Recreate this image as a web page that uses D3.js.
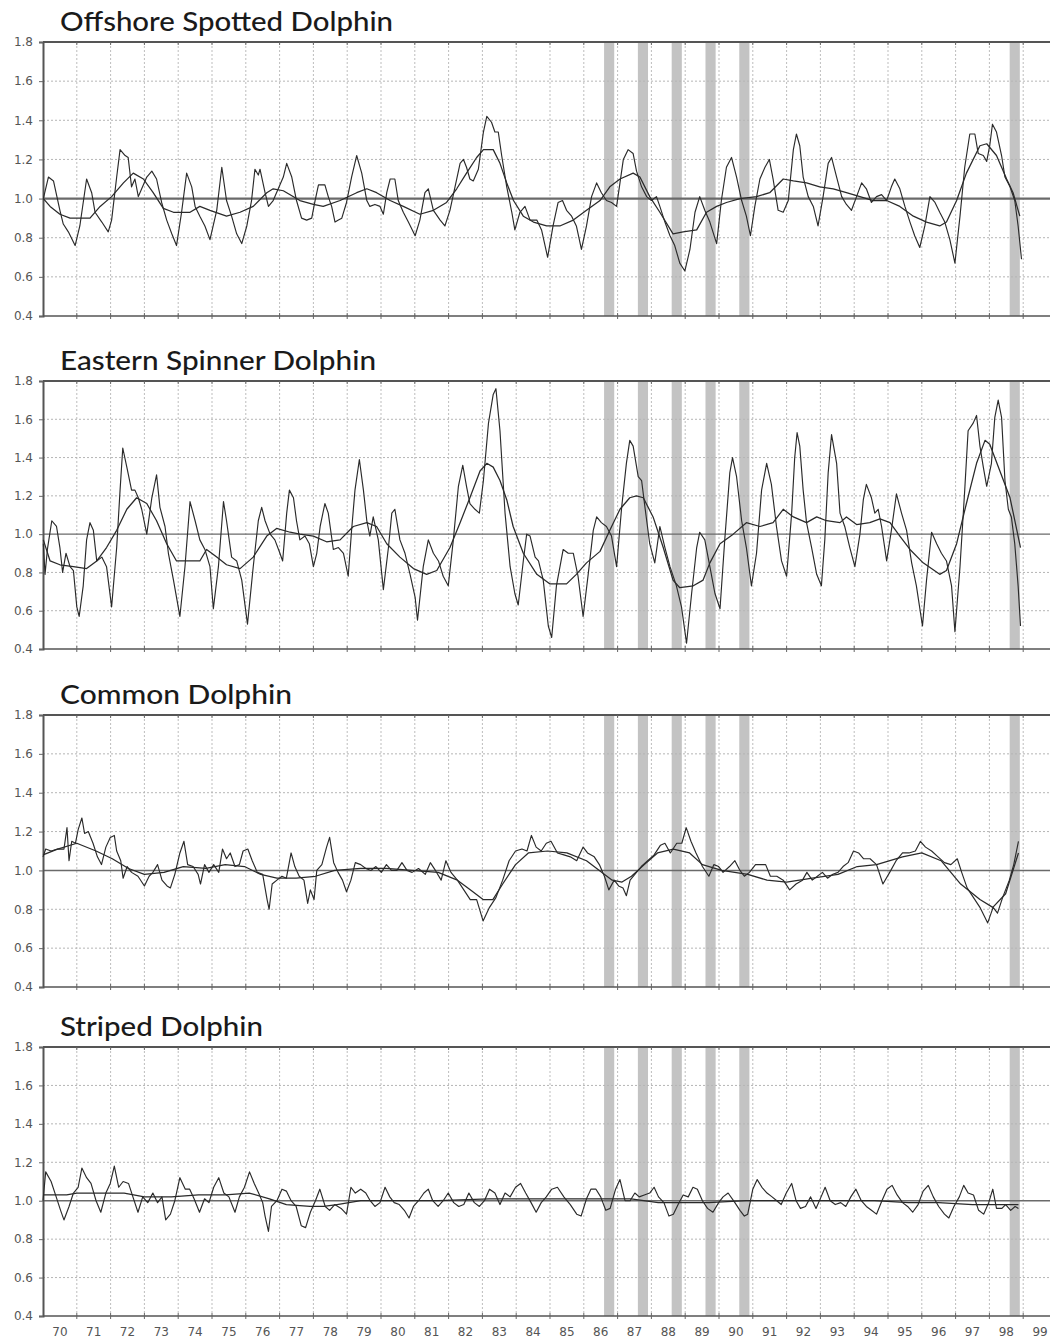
<!DOCTYPE html>
<html><head><meta charset="utf-8">
<script src="https://cdn.jsdelivr.net/npm/d3@7"></script>
<style>html,body{margin:0;padding:0;background:#fff;}svg{display:block;}</style>
</head><body>
<script>
// ---------- DATA ----------
const titles = ["Offshore Spotted Dolphin","Eastern Spinner Dolphin","Common Dolphin","Striped Dolphin"];
const yTicks = [0.4,0.6,0.8,1.0,1.2,1.4,1.6,1.8];
const yTickLabels = ["0.4","0.6","0.8","1.0","1.2","1.4","1.6","1.8"];
const xYears = d3.range(1970,2000);
const xTickLabels = ["70","71","72","73","74","75","76","77","78","79","80","81","82","83","84","85","86","87","88","89","90","91","92","93","94","95","96","97","98","99"];
const shadedYears = [1986,1987,1988,1989,1990,1998];

const spottedRaw = [[1970.01,1.00],[1970.16,1.11],[1970.31,1.09],[1970.50,0.94],[1970.60,0.87],[1970.75,0.83],[1970.95,0.76],[1971.09,0.86],[1971.29,1.10],[1971.44,1.03],[1971.54,0.93],[1971.74,0.88],[1971.93,0.83],[1972.03,0.89],[1972.18,1.11],[1972.28,1.25],[1972.43,1.22],[1972.52,1.21],[1972.62,1.06],[1972.72,1.10],[1972.82,1.01],[1972.92,1.05],[1973.07,1.11],[1973.22,1.14],[1973.36,1.10],[1973.51,0.98],[1973.66,0.89],[1973.81,0.82],[1973.95,0.76],[1974.10,0.93],[1974.25,1.13],[1974.40,1.06],[1974.50,0.96],[1974.64,0.91],[1974.79,0.86],[1974.94,0.79],[1975.14,0.94],[1975.29,1.16],[1975.43,0.99],[1975.58,0.91],[1975.73,0.82],[1975.88,0.77],[1976.03,0.86],[1976.17,0.99],[1976.27,1.15],[1976.37,1.12],[1976.42,1.15],[1976.57,1.03],[1976.67,0.96],[1976.81,0.99],[1976.96,1.05],[1977.11,1.11],[1977.21,1.18],[1977.36,1.11],[1977.50,0.99],[1977.65,0.90],[1977.80,0.89],[1977.95,0.90],[1978.05,0.99],[1978.15,1.07],[1978.34,1.07],[1978.44,1.01],[1978.54,0.96],[1978.64,0.88],[1978.74,0.89],[1978.84,0.90],[1978.98,0.98],[1979.13,1.11],[1979.28,1.22],[1979.43,1.13],[1979.58,0.99],[1979.67,0.96],[1979.82,0.97],[1979.97,0.96],[1980.07,0.92],[1980.17,1.03],[1980.27,1.10],[1980.41,1.10],[1980.51,0.99],[1980.66,0.93],[1980.81,0.88],[1981.01,0.81],[1981.15,0.89],[1981.30,1.03],[1981.40,1.05],[1981.55,0.94],[1981.75,0.89],[1981.89,0.86],[1982.04,0.94],[1982.19,1.06],[1982.34,1.18],[1982.44,1.20],[1982.53,1.16],[1982.63,1.10],[1982.73,1.09],[1982.88,1.15],[1983.03,1.34],[1983.13,1.42],[1983.27,1.39],[1983.37,1.34],[1983.47,1.34],[1983.57,1.22],[1983.72,1.06],[1983.87,0.93],[1983.96,0.84],[1984.11,0.93],[1984.26,0.96],[1984.41,0.89],[1984.61,0.89],[1984.75,0.84],[1984.93,0.70],[1985.09,0.86],[1985.24,0.98],[1985.37,0.99],[1985.49,0.94],[1985.64,0.91],[1985.78,0.86],[1985.93,0.74],[1986.08,0.86],[1986.23,1.01],[1986.38,1.08],[1986.52,1.03],[1986.67,0.99],[1986.82,0.98],[1986.97,0.96],[1987.07,1.08],[1987.17,1.20],[1987.31,1.25],[1987.46,1.23],[1987.56,1.14],[1987.71,1.06],[1987.86,1.01],[1988.00,0.99],[1988.15,1.01],[1988.25,0.96],[1988.40,0.88],[1988.55,0.81],[1988.69,0.76],[1988.84,0.67],[1988.99,0.63],[1989.14,0.74],[1989.29,0.93],[1989.43,1.01],[1989.58,0.94],[1989.73,0.88],[1989.93,0.77],[1990.07,0.99],[1990.22,1.16],[1990.37,1.21],[1990.52,1.11],[1990.67,0.99],[1990.81,0.91],[1990.93,0.81],[1991.06,0.96],[1991.21,1.10],[1991.36,1.16],[1991.49,1.20],[1991.60,1.10],[1991.75,0.94],[1991.90,0.93],[1992.05,0.99],[1992.20,1.25],[1992.29,1.33],[1992.39,1.27],[1992.49,1.11],[1992.64,1.01],[1992.79,0.96],[1992.93,0.86],[1993.08,1.01],[1993.23,1.18],[1993.33,1.21],[1993.48,1.11],[1993.63,1.01],[1993.77,0.97],[1993.92,0.94],[1994.07,1.01],[1994.22,1.08],[1994.36,1.05],[1994.51,0.98],[1994.66,1.01],[1994.81,1.02],[1994.96,0.99],[1995.10,1.06],[1995.20,1.10],[1995.35,1.05],[1995.50,0.96],[1995.65,0.88],[1995.79,0.81],[1995.94,0.75],[1996.09,0.86],[1996.24,1.01],[1996.39,0.98],[1996.53,0.93],[1996.68,0.88],[1996.83,0.79],[1996.98,0.67],[1997.13,0.91],[1997.27,1.16],[1997.42,1.33],[1997.57,1.33],[1997.67,1.23],[1997.82,1.22],[1997.92,1.19],[1998.01,1.27],[1998.09,1.38],[1998.21,1.34],[1998.36,1.22],[1998.46,1.11],[1998.61,1.06],[1998.75,0.99],[1998.85,0.86],[1998.95,0.69]];
const spottedTrend = [[1970.01,1.00],[1970.21,0.96],[1970.50,0.92],[1970.80,0.90],[1971.39,0.90],[1971.69,0.96],[1972.03,1.01],[1972.38,1.08],[1972.67,1.13],[1972.97,1.10],[1973.26,1.03],[1973.56,0.95],[1973.86,0.93],[1974.35,0.93],[1974.64,0.96],[1974.94,0.94],[1975.43,0.91],[1975.83,0.93],[1976.22,0.96],[1976.62,1.03],[1976.81,1.05],[1977.11,1.04],[1977.60,0.99],[1978.00,0.97],[1978.29,0.96],[1978.79,0.99],[1979.28,1.03],[1979.58,1.05],[1979.87,1.03],[1980.27,0.99],[1980.66,0.96],[1981.15,0.92],[1981.55,0.94],[1981.94,0.98],[1982.24,1.05],[1982.53,1.13],[1982.83,1.21],[1983.03,1.25],[1983.32,1.25],[1983.52,1.18],[1983.72,1.08],[1983.92,0.99],[1984.21,0.91],[1984.51,0.88],[1984.90,0.86],[1985.29,0.86],[1985.69,0.89],[1986.08,0.94],[1986.48,0.99],[1986.77,1.06],[1987.07,1.10],[1987.46,1.13],[1987.66,1.11],[1987.95,1.01],[1988.25,0.93],[1988.64,0.82],[1988.94,0.83],[1989.34,0.84],[1989.63,0.93],[1989.93,0.96],[1990.22,0.98],[1990.62,1.00],[1991.11,1.01],[1991.50,1.03],[1991.90,1.10],[1992.20,1.09],[1992.59,1.08],[1992.98,1.06],[1993.38,1.05],[1993.77,1.03],[1994.17,1.01],[1994.56,0.99],[1994.96,0.99],[1995.35,0.96],[1995.75,0.91],[1996.14,0.88],[1996.53,0.86],[1996.73,0.88],[1997.03,0.99],[1997.32,1.13],[1997.72,1.27],[1997.92,1.28],[1998.21,1.22],[1998.51,1.10],[1998.70,1.03],[1998.90,0.91]];

const spinnerRaw = [[1970.01,0.95],[1970.06,0.79],[1970.13,0.92],[1970.26,1.07],[1970.40,1.04],[1970.50,0.93],[1970.58,0.80],[1970.68,0.90],[1970.80,0.83],[1970.90,0.81],[1971.00,0.62],[1971.07,0.57],[1971.19,0.73],[1971.29,0.97],[1971.39,1.06],[1971.49,1.02],[1971.59,0.86],[1971.74,0.88],[1971.88,0.83],[1972.03,0.62],[1972.18,0.93],[1972.28,1.23],[1972.36,1.45],[1972.48,1.35],[1972.62,1.23],[1972.72,1.23],[1972.82,1.19],[1972.92,1.13],[1973.07,1.00],[1973.22,1.19],[1973.36,1.31],[1973.46,1.14],[1973.61,1.04],[1973.71,0.90],[1973.86,0.76],[1974.05,0.57],[1974.20,0.83],[1974.35,1.17],[1974.50,1.07],[1974.64,0.97],[1974.79,0.92],[1974.94,0.83],[1975.04,0.61],[1975.19,0.83],[1975.34,1.17],[1975.43,1.07],[1975.58,0.88],[1975.73,0.86],[1975.88,0.76],[1976.05,0.53],[1976.22,0.83],[1976.37,1.07],[1976.47,1.14],[1976.57,1.07],[1976.72,1.00],[1976.86,0.97],[1977.01,0.90],[1977.09,0.86],[1977.21,1.11],[1977.29,1.23],[1977.41,1.19],[1977.50,1.07],[1977.60,0.97],[1977.75,0.99],[1977.88,0.95],[1978.00,0.83],[1978.10,0.90],[1978.20,1.04],[1978.34,1.16],[1978.44,1.11],[1978.59,0.92],[1978.74,0.93],[1978.89,0.90],[1979.03,0.78],[1979.13,1.02],[1979.23,1.23],[1979.36,1.39],[1979.48,1.23],[1979.58,1.07],[1979.67,0.99],[1979.77,1.09],[1979.92,0.97],[1980.07,0.71],[1980.22,0.93],[1980.32,1.11],[1980.41,1.13],[1980.56,0.97],[1980.71,0.90],[1980.86,0.79],[1981.01,0.67],[1981.08,0.55],[1981.25,0.83],[1981.40,0.97],[1981.55,0.90],[1981.70,0.86],[1981.84,0.78],[1981.99,0.73],[1982.14,0.97],[1982.29,1.25],[1982.42,1.36],[1982.53,1.25],[1982.63,1.16],[1982.78,1.13],[1982.91,1.11],[1983.03,1.28],[1983.18,1.58],[1983.32,1.73],[1983.40,1.76],[1983.52,1.54],[1983.67,1.11],[1983.82,0.83],[1983.96,0.69],[1984.06,0.63],[1984.21,0.86],[1984.31,1.00],[1984.41,0.99],[1984.56,0.88],[1984.66,0.86],[1984.80,0.76],[1984.95,0.52],[1985.05,0.46],[1985.19,0.73],[1985.39,0.92],[1985.54,0.90],[1985.69,0.90],[1985.83,0.78],[1985.98,0.57],[1986.13,0.79],[1986.28,1.02],[1986.38,1.09],[1986.52,1.06],[1986.67,1.04],[1986.82,0.99],[1986.97,0.83],[1987.12,1.14],[1987.26,1.37],[1987.36,1.49],[1987.46,1.46],[1987.61,1.30],[1987.71,1.28],[1987.81,1.14],[1987.95,0.95],[1988.10,0.85],[1988.25,1.04],[1988.40,0.93],[1988.55,0.83],[1988.74,0.73],[1988.89,0.62],[1989.04,0.43],[1989.19,0.69],[1989.34,0.93],[1989.43,1.01],[1989.58,0.97],[1989.73,0.83],[1989.88,0.69],[1990.03,0.61],[1990.17,0.97],[1990.32,1.32],[1990.40,1.40],[1990.52,1.30],[1990.67,1.07],[1990.81,0.93],[1990.96,0.73],[1991.11,0.90],[1991.26,1.23],[1991.41,1.37],[1991.55,1.26],[1991.70,1.04],[1991.85,0.86],[1992.00,0.78],[1992.15,1.11],[1992.24,1.40],[1992.31,1.53],[1992.39,1.46],[1992.49,1.23],[1992.59,1.06],[1992.74,0.93],[1992.89,0.79],[1993.03,0.73],[1993.13,0.97],[1993.23,1.32],[1993.33,1.52],[1993.48,1.37],[1993.58,1.11],[1993.72,1.04],[1993.87,0.93],[1994.02,0.83],[1994.17,1.00],[1994.27,1.18],[1994.36,1.26],[1994.51,1.19],[1994.61,1.11],[1994.71,1.13],[1994.81,1.04],[1994.96,0.86],[1995.10,1.02],[1995.25,1.21],[1995.40,1.11],[1995.55,1.02],[1995.70,0.85],[1995.84,0.73],[1996.02,0.52],[1996.14,0.76],[1996.29,1.01],[1996.44,0.95],[1996.58,0.90],[1996.73,0.86],[1996.88,0.73],[1996.98,0.49],[1997.13,0.83],[1997.27,1.23],[1997.37,1.54],[1997.52,1.58],[1997.62,1.62],[1997.72,1.46],[1997.82,1.35],[1997.92,1.25],[1998.06,1.37],[1998.16,1.61],[1998.26,1.70],[1998.36,1.61],[1998.46,1.28],[1998.56,1.13],[1998.65,1.09],[1998.75,0.95],[1998.85,0.73],[1998.92,0.52]];
const spinnerTrend = [[1970.01,0.97],[1970.21,0.86],[1970.50,0.84],[1970.90,0.83],[1971.29,0.82],[1971.59,0.86],[1971.88,0.93],[1972.18,1.02],[1972.48,1.13],[1972.77,1.19],[1973.07,1.16],[1973.36,1.07],[1973.66,0.95],[1973.95,0.86],[1974.25,0.86],[1974.64,0.86],[1974.84,0.92],[1975.14,0.88],[1975.43,0.84],[1975.83,0.82],[1976.22,0.88],[1976.62,0.99],[1976.91,1.03],[1977.31,1.01],[1977.60,1.00],[1978.00,0.99],[1978.39,0.96],[1978.79,0.97],[1979.18,1.04],[1979.58,1.06],[1979.87,1.04],[1980.17,0.95],[1980.56,0.88],[1980.96,0.82],[1981.35,0.79],[1981.65,0.81],[1982.04,0.93],[1982.34,1.06],[1982.63,1.19],[1982.93,1.33],[1983.13,1.37],[1983.32,1.35],[1983.52,1.28],[1983.72,1.18],[1983.91,1.04],[1984.21,0.90],[1984.61,0.79],[1985.00,0.74],[1985.49,0.74],[1985.78,0.79],[1986.08,0.85],[1986.48,0.91],[1986.77,1.02],[1987.07,1.13],[1987.36,1.19],[1987.56,1.20],[1987.76,1.19],[1988.05,1.09],[1988.35,0.93],[1988.64,0.76],[1988.84,0.72],[1989.24,0.73],[1989.53,0.76],[1989.73,0.85],[1990.03,0.95],[1990.42,1.00],[1990.81,1.06],[1991.21,1.04],[1991.60,1.06],[1991.90,1.13],[1992.20,1.09],[1992.59,1.06],[1992.89,1.09],[1993.18,1.07],[1993.58,1.06],[1993.77,1.09],[1994.07,1.05],[1994.46,1.06],[1994.76,1.08],[1995.06,1.06],[1995.35,0.99],[1995.65,0.92],[1996.04,0.85],[1996.53,0.79],[1996.73,0.81],[1997.03,0.95],[1997.32,1.16],[1997.62,1.37],[1997.87,1.49],[1998.01,1.47],[1998.31,1.33],[1998.61,1.19],[1998.92,0.93]];

const commonRaw = [[1970.00,1.07],[1970.08,1.11],[1970.24,1.10],[1970.43,1.11],[1970.62,1.11],[1970.71,1.22],[1970.77,1.05],[1970.85,1.15],[1970.96,1.14],[1971.04,1.21],[1971.15,1.27],[1971.23,1.19],[1971.34,1.20],[1971.48,1.14],[1971.61,1.07],[1971.73,1.03],[1971.86,1.12],[1971.99,1.17],[1972.11,1.18],[1972.18,1.10],[1972.30,1.05],[1972.37,0.96],[1972.49,1.02],[1972.62,0.99],[1972.81,0.97],[1973.00,0.92],[1973.14,0.97],[1973.25,0.99],[1973.39,1.03],[1973.52,0.95],[1973.67,0.92],[1973.77,0.91],[1973.90,0.98],[1974.05,1.09],[1974.17,1.15],[1974.28,1.03],[1974.44,1.02],[1974.59,0.98],[1974.66,0.93],[1974.78,1.03],[1974.91,0.99],[1975.05,1.03],[1975.20,0.99],[1975.31,1.11],[1975.43,1.06],[1975.54,1.09],[1975.68,1.02],[1975.81,1.03],[1975.92,1.10],[1976.06,1.11],[1976.19,1.05],[1976.34,0.99],[1976.50,0.98],[1976.63,0.85],[1976.69,0.80],[1976.78,0.93],[1976.92,0.95],[1977.07,0.97],[1977.20,0.96],[1977.34,1.09],[1977.45,1.02],[1977.58,0.97],[1977.72,0.95],[1977.83,0.83],[1977.91,0.90],[1978.02,0.85],[1978.10,1.00],[1978.25,1.03],[1978.39,1.12],[1978.48,1.17],[1978.60,1.04],[1978.73,0.99],[1978.86,0.95],[1978.98,0.89],[1979.11,0.95],[1979.24,1.04],[1979.40,1.03],[1979.55,1.01],[1979.70,1.00],[1979.85,1.02],[1980.01,0.99],[1980.16,1.03],[1980.31,1.00],[1980.47,1.00],[1980.62,1.04],[1980.77,1.00],[1980.92,0.99],[1981.11,1.01],[1981.31,0.98],[1981.46,1.04],[1981.61,1.00],[1981.78,0.95],[1981.92,1.05],[1982.07,0.99],[1982.26,0.95],[1982.45,0.90],[1982.64,0.85],[1982.83,0.85],[1983.02,0.74],[1983.21,0.81],[1983.40,0.86],[1983.60,0.95],[1983.79,1.05],[1983.98,1.10],[1984.17,1.11],[1984.32,1.10],[1984.45,1.18],[1984.59,1.12],[1984.74,1.10],[1984.89,1.14],[1985.03,1.15],[1985.22,1.09],[1985.41,1.08],[1985.60,1.07],[1985.79,1.05],[1985.98,1.12],[1986.11,1.09],[1986.31,1.07],[1986.46,1.03],[1986.61,0.97],[1986.74,0.90],[1986.90,0.95],[1987.03,0.92],[1987.16,0.91],[1987.26,0.87],[1987.37,0.95],[1987.51,0.98],[1987.70,1.02],[1987.89,1.05],[1988.08,1.08],[1988.27,1.13],[1988.40,1.14],[1988.56,1.09],[1988.75,1.14],[1988.90,1.14],[1989.03,1.22],[1989.17,1.15],[1989.32,1.09],[1989.51,1.02],[1989.70,0.97],[1989.85,1.03],[1989.99,1.02],[1990.12,0.99],[1990.31,1.02],[1990.47,1.05],[1990.62,1.00],[1990.75,0.97],[1990.90,0.99],[1991.08,1.03],[1991.23,1.03],[1991.38,1.03],[1991.52,0.97],[1991.71,0.97],[1991.90,0.95],[1992.09,0.90],[1992.28,0.93],[1992.47,0.95],[1992.60,0.99],[1992.76,0.95],[1992.91,0.97],[1993.06,0.99],[1993.21,0.96],[1993.37,0.98],[1993.52,0.99],[1993.67,1.02],[1993.82,1.04],[1993.98,1.10],[1994.13,1.09],[1994.28,1.06],[1994.47,1.06],[1994.66,1.03],[1994.85,0.93],[1995.05,0.99],[1995.24,1.05],[1995.43,1.09],[1995.62,1.09],[1995.81,1.10],[1995.96,1.15],[1996.11,1.12],[1996.29,1.10],[1996.48,1.07],[1996.67,1.04],[1996.86,1.03],[1997.05,1.06],[1997.18,0.99],[1997.34,0.91],[1997.53,0.86],[1997.72,0.81],[1997.95,0.73],[1998.11,0.81],[1998.24,0.78],[1998.39,0.86],[1998.59,0.95],[1998.72,1.03],[1998.86,1.15]];
const commonTrend = [[1970.00,1.08],[1970.43,1.11],[1971.00,1.14],[1971.57,1.10],[1972.05,1.06],[1972.53,1.01],[1973.00,0.98],[1973.58,0.99],[1974.15,1.02],[1974.82,1.01],[1975.39,1.03],[1975.96,1.02],[1976.44,0.98],[1976.92,0.96],[1977.49,0.96],[1978.06,0.97],[1978.63,1.00],[1979.40,1.01],[1980.16,1.01],[1980.92,1.00],[1981.69,0.99],[1982.26,0.95],[1982.64,0.90],[1983.02,0.85],[1983.31,0.85],[1983.60,0.93],[1983.98,1.03],[1984.36,1.09],[1984.93,1.10],[1985.50,1.09],[1986.08,1.05],[1986.46,1.00],[1986.84,0.95],[1987.13,0.94],[1987.41,0.97],[1987.79,1.03],[1988.18,1.09],[1988.65,1.11],[1989.13,1.09],[1989.51,1.03],[1990.08,1.00],[1990.85,0.98],[1991.42,0.95],[1992.00,0.94],[1992.76,0.96],[1993.52,0.98],[1994.09,1.02],[1994.66,1.03],[1995.43,1.07],[1996.00,1.09],[1996.57,1.05],[1997.15,0.93],[1997.72,0.85],[1998.10,0.81],[1998.48,0.88],[1998.86,1.09]];

const stripedRaw = [[1970.00,1.00],[1970.08,1.15],[1970.24,1.10],[1970.39,1.02],[1970.52,0.95],[1970.62,0.90],[1970.77,0.97],[1970.90,1.04],[1971.04,1.07],[1971.15,1.17],[1971.29,1.12],[1971.42,1.09],[1971.57,1.00],[1971.71,0.94],[1971.86,1.04],[1971.99,1.09],[1972.11,1.18],[1972.24,1.07],[1972.37,1.10],[1972.53,1.09],[1972.66,1.02],[1972.81,0.94],[1972.95,1.02],[1973.10,0.99],[1973.25,1.04],[1973.39,0.99],[1973.52,1.02],[1973.63,0.90],[1973.77,0.93],[1973.90,1.00],[1974.05,1.12],[1974.21,1.06],[1974.34,1.06],[1974.47,1.01],[1974.63,0.94],[1974.78,1.01],[1974.91,0.99],[1975.05,1.07],[1975.20,1.12],[1975.35,1.04],[1975.50,1.02],[1975.68,0.94],[1975.81,1.02],[1975.96,1.07],[1976.11,1.15],[1976.25,1.09],[1976.38,1.04],[1976.50,0.99],[1976.57,0.92],[1976.67,0.84],[1976.76,0.97],[1976.92,1.00],[1977.07,1.06],[1977.20,1.05],[1977.34,1.00],[1977.49,0.97],[1977.64,0.87],[1977.77,0.86],[1977.91,0.94],[1978.06,1.00],[1978.19,1.06],[1978.35,0.97],[1978.48,0.95],[1978.63,0.98],[1978.82,0.96],[1978.98,0.93],[1979.11,1.07],[1979.24,1.04],[1979.40,1.06],[1979.55,1.04],[1979.68,1.00],[1979.82,0.97],[1979.97,0.99],[1980.12,1.07],[1980.26,1.02],[1980.39,0.99],[1980.54,0.98],[1980.69,0.95],[1980.83,0.91],[1980.96,0.97],[1981.11,1.00],[1981.27,1.04],[1981.40,1.06],[1981.53,1.00],[1981.69,0.97],[1981.84,1.00],[1981.99,1.04],[1982.15,0.99],[1982.30,0.97],[1982.45,0.98],[1982.60,1.04],[1982.76,0.99],[1982.91,0.97],[1983.06,1.00],[1983.21,1.06],[1983.37,1.04],[1983.52,0.98],[1983.67,1.04],[1983.82,1.02],[1983.98,1.07],[1984.13,1.09],[1984.28,1.04],[1984.44,0.99],[1984.59,0.94],[1984.74,0.99],[1984.89,1.02],[1985.05,1.06],[1985.22,1.07],[1985.41,1.02],[1985.60,0.98],[1985.79,0.93],[1985.92,0.92],[1986.08,1.01],[1986.21,1.06],[1986.36,1.06],[1986.50,1.02],[1986.65,0.95],[1986.78,0.96],[1986.94,1.06],[1987.07,1.11],[1987.22,1.00],[1987.37,1.00],[1987.51,1.04],[1987.64,1.02],[1987.79,1.03],[1987.95,1.04],[1988.08,1.07],[1988.21,1.02],[1988.37,0.99],[1988.52,0.92],[1988.65,0.93],[1988.79,0.98],[1988.94,1.03],[1989.09,1.02],[1989.23,1.07],[1989.36,1.06],[1989.51,1.00],[1989.66,0.96],[1989.82,0.94],[1989.99,0.99],[1990.12,1.02],[1990.27,1.04],[1990.47,0.99],[1990.62,0.95],[1990.75,0.92],[1990.85,0.93],[1991.00,1.06],[1991.13,1.11],[1991.27,1.07],[1991.42,1.04],[1991.57,1.02],[1991.71,1.00],[1991.84,0.98],[1991.99,1.04],[1992.15,1.09],[1992.28,1.00],[1992.41,0.96],[1992.56,0.97],[1992.71,1.02],[1992.87,0.96],[1993.02,1.02],[1993.14,1.07],[1993.29,1.00],[1993.44,0.98],[1993.60,0.99],[1993.75,0.97],[1993.90,1.02],[1994.05,1.06],[1994.21,1.00],[1994.36,0.97],[1994.51,0.95],[1994.66,0.93],[1994.82,1.00],[1994.97,1.06],[1995.12,1.08],[1995.27,1.03],[1995.43,0.99],[1995.58,0.97],[1995.73,0.94],[1995.89,0.98],[1996.04,1.05],[1996.19,1.08],[1996.34,1.02],[1996.50,0.97],[1996.67,0.93],[1996.80,0.91],[1996.95,0.97],[1997.11,1.02],[1997.24,1.08],[1997.37,1.04],[1997.53,1.03],[1997.68,0.95],[1997.83,0.93],[1997.98,0.99],[1998.10,1.06],[1998.21,0.96],[1998.37,0.96],[1998.48,0.98],[1998.63,0.95],[1998.76,0.97],[1998.86,0.96]];
const stripedTrend = [[1970.00,1.03],[1970.70,1.03],[1971.00,1.04],[1971.60,1.04],[1972.40,1.04],[1973.00,1.02],[1973.80,1.02],[1974.60,1.03],[1975.40,1.03],[1976.10,1.04],[1976.70,1.01],[1977.20,0.98],[1977.90,0.97],[1978.30,0.97],[1978.70,0.98],[1979.40,1.00],[1980.20,1.00],[1981.00,1.00],[1981.70,1.00],[1983.20,1.01],[1985.10,1.01],[1986.60,1.01],[1987.40,1.01],[1988.20,0.99],[1988.90,0.99],[1989.70,0.99],[1990.80,1.00],[1991.70,1.00],[1992.70,1.00],[1993.80,1.00],[1994.60,1.00],[1995.60,0.99],[1996.50,0.99],[1997.50,0.98],[1998.50,0.98],[1998.86,0.98]];

const seriesRaw = [spottedRaw, spinnerRaw, commonRaw, stripedRaw];
const seriesTrend = [spottedTrend, spinnerTrend, commonTrend, stripedTrend];

// ---------- LAYOUT ----------
const W = 1050, H = 1342;
const panels = [{top:42,bottom:316,titleW:333},{top:381,bottom:649,titleW:316},{top:715,bottom:987,titleW:232},{top:1047,bottom:1316,titleW:203}];
const x = d3.scaleLinear().domain([1970,2000]).range([43,1057]);

const svg = d3.select("body").append("svg").attr("width",W).attr("height",H)
  .style("font-family","'DejaVu Sans', sans-serif");
svg.append("rect").attr("width",W).attr("height",H).attr("fill","#fff");

panels.forEach((p,i)=>{
  const y = d3.scaleLinear().domain([0.4,1.8]).range([p.bottom,p.top]);
  const g = svg.append("g");

  // title
  g.append("text").attr("x",60).attr("y",p.top-11)
    .attr("font-family","Lato, 'Open Sans', sans-serif").attr("font-size",27).attr("font-weight",500)
    .attr("textLength",p.titleW).attr("lengthAdjust","spacingAndGlyphs")
    .attr("fill","#1a1a1a").text(titles[i]);

  // shaded bars
  g.selectAll("rect.shade").data(shadedYears).join("rect")
    .attr("x",d=>x(d+0.6)).attr("width",d=>x(d+0.9)-x(d+0.6))
    .attr("y",p.top).attr("height",p.bottom-p.top).attr("fill","#c3c3c3");

  // vertical grid
  g.selectAll("line.vg").data(xYears.slice(1)).join("line")
    .attr("x1",d=>x(d)).attr("x2",d=>x(d)).attr("y1",p.top).attr("y2",p.bottom)
    .attr("stroke","#bdbdbd").attr("stroke-width",1).attr("stroke-dasharray","2,2");

  // horizontal grid
  g.selectAll("line.hg").data(yTicks.filter(v=>v>0.41&&v<1.79&&Math.abs(v-1)>0.01)).join("line")
    .attr("x1",43).attr("x2",W).attr("y1",d=>y(d)).attr("y2",d=>y(d))
    .attr("stroke","#b5b5b5").attr("stroke-width",1).attr("stroke-dasharray","2,2");

  // reference line at 1.0
  g.append("line").attr("x1",43).attr("x2",W).attr("y1",y(1)).attr("y2",y(1))
    .attr("stroke","#6a6a6a").attr("stroke-width",i===0?2.2:1.4);

  // top and bottom frame lines
  g.append("line").attr("x1",43).attr("x2",W).attr("y1",y(1.8)).attr("y2",y(1.8))
    .attr("stroke","#555").attr("stroke-width",2);
  g.append("line").attr("x1",43).attr("x2",W).attr("y1",y(0.4)).attr("y2",y(0.4))
    .attr("stroke","#555").attr("stroke-width",1.6);

  // year tick marks on frame
  g.selectAll("line.bt").data(xYears.slice(1)).join("line")
    .attr("x1",d=>x(d)).attr("x2",d=>x(d)).attr("y1",y(0.4)-3).attr("y2",y(0.4)+3)
    .attr("stroke","#666").attr("stroke-width",1);
  g.selectAll("line.tt").data(xYears.slice(1)).join("line")
    .attr("x1",d=>x(d)).attr("x2",d=>x(d)).attr("y1",y(1.8)).attr("y2",y(1.8)+3)
    .attr("stroke","#666").attr("stroke-width",1);

  // y axis
  const yAxis = d3.axisLeft(y).tickValues(yTicks).tickSize(4).tickPadding(6)
    .tickFormat((d,k)=>yTickLabels[k]);
  const ya = g.append("g").attr("transform","translate(43,0)").call(yAxis);
  ya.select(".domain").attr("stroke","#555").attr("stroke-width",2);
  ya.selectAll(".tick line").attr("stroke","#666");
  ya.selectAll("text").attr("font-size",12).attr("fill","#555").attr("font-family","'DejaVu Sans', sans-serif");

  // lines
  const line = d3.line().x(d=>x(d[0])).y(d=>y(d[1]));
  g.append("path").datum(seriesTrend[i]).attr("d",line)
    .attr("fill","none").attr("stroke","#2a2a2a").attr("stroke-width",1.25).attr("stroke-linejoin","round");
  g.append("path").datum(seriesRaw[i]).attr("d",line)
    .attr("fill","none").attr("stroke","#2a2a2a").attr("stroke-width",1.15).attr("stroke-linejoin","round");

  // x labels on last panel
  if(i===3){
    g.selectAll("text.xl").data(xYears).join("text")
      .attr("x",d=>x(d+0.5)).attr("y",p.bottom+20).attr("text-anchor","middle")
      .attr("font-size",12).attr("fill","#555").text((d,k)=>xTickLabels[k]);
  }
});
</script>
</body></html>
